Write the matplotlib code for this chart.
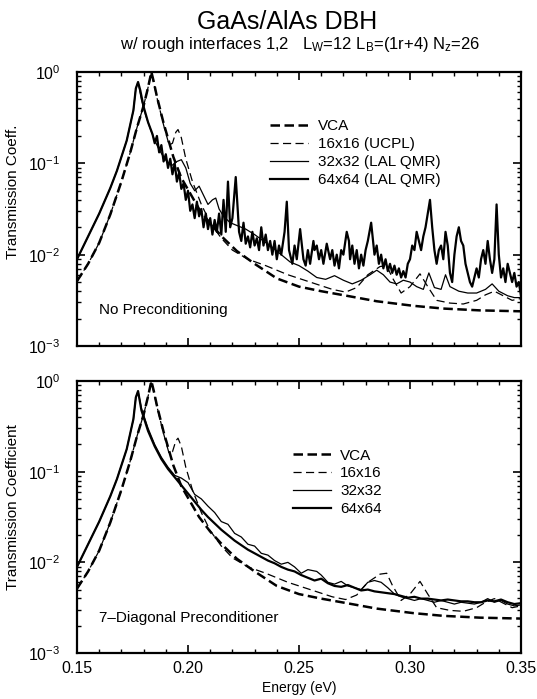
import numpy as np
import matplotlib
matplotlib.use("Agg")
import matplotlib.pyplot as plt
from matplotlib.ticker import MultipleLocator, LogLocator, NullFormatter

plt.rcParams['font.family'] = ['Liberation Sans', 'DejaVu Sans']
plt.rcParams['mathtext.fontset'] = 'custom'
plt.rcParams['mathtext.rm'] = 'Liberation Sans'
plt.rcParams['mathtext.it'] = 'Liberation Sans:italic'
plt.rcParams['mathtext.default'] = 'regular'

# ---- data (energy in eV, transmission as log10 values) ----
# shared left branch of the resonance
e_vca_left = [0.150, 0.155, 0.160, 0.165, 0.170, 0.174, 0.177, 0.180, 0.182, 0.1835]
t_vca_left = [-2.29, -2.10, -1.87, -1.56, -1.20, -0.88, -0.61, -0.37, -0.17, 0.0]

e_lal_left = [0.150, 0.155, 0.160, 0.165, 0.168, 0.1724, 0.1754, 0.1765, 0.1775]
t_lal_left = [-2.05, -1.80, -1.55, -1.27, -1.08, -0.75, -0.42, -0.18, -0.11]

# VCA
e_vca_right = [0.1845, 0.186, 0.189, 0.1934, 0.197, 0.201, 0.205, 0.210, 0.216, 0.222,
               0.230, 0.240, 0.250, 0.260, 0.2715, 0.285, 0.3015, 0.315, 0.3315, 0.350]
t_vca_right = [-0.10, -0.27, -0.56, -0.93, -1.16, -1.33, -1.50, -1.66, -1.82, -1.96,
               -2.10, -2.26, -2.35, -2.40, -2.45, -2.51, -2.56, -2.59, -2.61, -2.62]

# 16x16
e_16_right = [0.186, 0.189, 0.1915, 0.193, 0.1945, 0.1955, 0.197, 0.199, 0.202, 0.206,
              0.210, 0.215, 0.220, 0.227, 0.235, 0.245, 0.255, 0.265, 0.271, 0.276,
              0.281, 0.2865, 0.2895, 0.292, 0.296, 0.300, 0.3045, 0.308, 0.312, 0.318,
              0.324, 0.330, 0.334, 0.338, 0.342, 0.346, 0.350]
t_16_right = [-0.28, -0.58, -0.80, -0.78, -0.66, -0.63, -0.72, -0.95, -1.20, -1.45,
              -1.65, -1.82, -1.95, -2.05, -2.12, -2.22, -2.30, -2.38, -2.41, -2.36,
              -2.22, -2.13, -2.12, -2.25, -2.42, -2.35, -2.21, -2.35, -2.50, -2.53,
              -2.54, -2.50, -2.44, -2.40, -2.45, -2.50, -2.48]

# 64x64, no preconditioning (noisy)
e_64_top = [0.1785, 0.180, 0.182, 0.184, 0.185, 0.186, 0.187, 0.188, 0.189, 0.190,
            0.191, 0.192, 0.193, 0.194, 0.195, 0.196, 0.197, 0.198, 0.199, 0.200,
            0.201, 0.202, 0.203, 0.204, 0.205, 0.206, 0.207, 0.208, 0.209, 0.210,
            0.211, 0.212, 0.213, 0.214, 0.215, 0.216, 0.217, 0.218, 0.219, 0.220,
            0.2215, 0.223, 0.224, 0.225, 0.226, 0.227, 0.228, 0.229, 0.230, 0.231,
            0.232, 0.233, 0.234, 0.235, 0.236, 0.237, 0.238, 0.239, 0.240, 0.241,
            0.242, 0.2435, 0.2445, 0.2455, 0.247, 0.248, 0.249, 0.2505, 0.252, 0.253,
            0.254, 0.255, 0.2565, 0.257, 0.258, 0.259, 0.260, 0.261, 0.2625, 0.264,
            0.265, 0.266, 0.267, 0.268, 0.269, 0.270, 0.2715, 0.2725, 0.273, 0.274,
            0.275, 0.276, 0.277, 0.278, 0.279, 0.280, 0.281, 0.2825, 0.284, 0.285,
            0.286, 0.287, 0.288, 0.289, 0.290, 0.291, 0.292, 0.293, 0.294, 0.295,
            0.296, 0.297, 0.298, 0.299, 0.300, 0.301, 0.302, 0.303, 0.304, 0.305,
            0.306, 0.307, 0.308, 0.309, 0.310, 0.311, 0.312, 0.313, 0.314, 0.315,
            0.316, 0.317, 0.318, 0.319, 0.320, 0.321, 0.322, 0.323, 0.324, 0.325,
            0.326, 0.327, 0.328, 0.329, 0.330, 0.331, 0.332, 0.333, 0.334, 0.335,
            0.336, 0.337, 0.338, 0.339, 0.340, 0.341, 0.342, 0.343, 0.344, 0.345,
            0.346, 0.347, 0.348, 0.349, 0.350]
t_64_top = [-0.20, -0.38, -0.55, -0.68, -0.78, -0.70, -0.88, -0.80, -0.98, -0.90,
            -1.05, -0.95, -1.12, -1.00, -1.20, -1.10, -1.28, -1.22, -1.40, -1.30,
            -1.52, -1.45, -1.60, -1.42, -1.58, -1.50, -1.70, -1.55, -1.72, -1.60,
            -1.78, -1.62, -1.75, -1.55, -1.78, -1.40, -1.75, -1.20, -1.70, -1.60,
            -1.15, -1.75, -1.85, -1.65, -1.88, -1.80, -1.92, -1.75, -1.90, -1.82,
            -1.95, -1.70, -1.90, -1.78, -1.95, -1.85, -2.00, -1.85, -2.05, -1.90,
            -2.00, -1.75, -1.42, -1.95, -2.10, -1.90, -2.05, -1.72, -2.05, -2.12,
            -1.95, -2.10, -1.85, -1.95, -1.90, -2.05, -1.95, -2.10, -1.88, -2.05,
            -1.95, -2.12, -2.00, -2.15, -1.95, -2.00, -1.75, -1.85, -2.05, -1.90,
            -2.10, -1.95, -2.15, -2.00, -2.12, -1.95, -1.85, -1.65, -2.00, -1.90,
            -2.10, -2.00, -2.15, -2.05, -2.18, -2.10, -2.20, -2.12, -2.22, -2.15,
            -2.25, -2.18, -2.25, -2.10, -2.05, -1.90, -1.95, -1.75, -1.85, -1.95,
            -1.80, -1.70, -1.55, -1.40, -1.70, -1.95, -2.10, -1.95, -1.90, -2.05,
            -1.75, -1.90, -2.20, -2.30, -2.00, -1.80, -1.70, -1.85, -1.90, -2.10,
            -2.20, -2.30, -2.35, -2.25, -2.15, -2.25, -2.05, -1.95, -2.10, -1.85,
            -2.05, -2.20, -2.05, -1.45, -2.00, -2.25, -2.15, -2.30, -2.10, -2.20,
            -2.30, -2.20, -2.35, -2.30, -2.45]

# 32x32, no preconditioning
e_32_top = [0.179, 0.181, 0.183, 0.185, 0.187, 0.189, 0.191, 0.193, 0.195, 0.197,
            0.199, 0.201, 0.203, 0.205, 0.207, 0.209, 0.211, 0.2125, 0.214, 0.216,
            0.219, 0.222, 0.226, 0.230, 0.234, 0.238, 0.242, 0.246, 0.250, 0.254,
            0.258, 0.262, 0.266, 0.270, 0.274, 0.278, 0.282, 0.285, 0.288, 0.291,
            0.294, 0.297, 0.300, 0.303, 0.306, 0.3085, 0.311, 0.314, 0.316, 0.318,
            0.322, 0.326, 0.330, 0.334, 0.337, 0.340, 0.344, 0.347, 0.350]
t_32_top = [-0.30, -0.48, -0.62, -0.75, -0.85, -0.93, -1.00, -1.02, -0.98, -0.96,
            -1.05, -1.22, -1.30, -1.25, -1.35, -1.45, -1.40, -1.38, -1.50, -1.58,
            -1.65, -1.68, -1.72, -1.78, -1.85, -1.92, -2.00, -2.08, -2.12, -2.18,
            -2.25, -2.27, -2.23, -2.28, -2.32, -2.28, -2.22, -2.17, -2.22, -2.30,
            -2.32, -2.28, -2.30, -2.35, -2.38, -2.20, -2.36, -2.38, -2.22, -2.35,
            -2.40, -2.42, -2.42, -2.38, -2.32, -2.40, -2.45, -2.47, -2.47]

# 64x64, 7-diagonal preconditioner
e_64_bot = [0.179, 0.182, 0.185, 0.188, 0.191, 0.194, 0.197, 0.200, 0.203, 0.206,
            0.209, 0.212, 0.215, 0.218, 0.221, 0.224, 0.227, 0.230, 0.233, 0.236,
            0.239, 0.242, 0.245, 0.248, 0.251, 0.254, 0.257, 0.260, 0.263, 0.266,
            0.269, 0.272, 0.275, 0.278, 0.281, 0.284, 0.287, 0.290, 0.293, 0.296,
            0.299, 0.302, 0.305, 0.308, 0.311, 0.314, 0.317, 0.320, 0.323, 0.326,
            0.329, 0.332, 0.335, 0.338, 0.341, 0.344, 0.347, 0.350]
t_64_bot = [-0.32, -0.55, -0.72, -0.86, -0.97, -1.06, -1.15, -1.24, -1.33, -1.42,
            -1.50, -1.57, -1.64, -1.70, -1.76, -1.81, -1.86, -1.90, -1.94, -1.98,
            -2.01, -2.05, -2.08, -2.10, -2.14, -2.17, -2.20, -2.18, -2.23, -2.26,
            -2.27, -2.25, -2.28, -2.31, -2.30, -2.32, -2.33, -2.34, -2.35, -2.37,
            -2.39, -2.38, -2.40, -2.40, -2.41, -2.42, -2.41, -2.42, -2.43, -2.43,
            -2.44, -2.44, -2.42, -2.43, -2.41, -2.44, -2.46, -2.45]

# 32x32, 7-diagonal preconditioner
e_32_bot = [0.179, 0.182, 0.185, 0.188, 0.191, 0.194, 0.197, 0.200, 0.203, 0.206,
            0.209, 0.212, 0.215, 0.218, 0.221, 0.224, 0.227, 0.230, 0.233, 0.236,
            0.239, 0.242, 0.245, 0.248, 0.251, 0.254, 0.258, 0.260, 0.263, 0.266,
            0.269, 0.272, 0.275, 0.278, 0.281, 0.284, 0.287, 0.290, 0.293, 0.296,
            0.299, 0.302, 0.305, 0.308, 0.311, 0.314, 0.317, 0.320, 0.323, 0.326,
            0.329, 0.332, 0.335, 0.338, 0.341, 0.344, 0.347, 0.350]
t_32_bot = [-0.30, -0.52, -0.70, -0.84, -0.95, -1.04, -1.07, -1.12, -1.25, -1.30,
            -1.38, -1.45, -1.55, -1.58, -1.68, -1.72, -1.80, -1.82, -1.90, -1.92,
            -1.98, -2.02, -2.00, -2.05, -2.12, -2.08, -2.10, -2.14, -2.22, -2.24,
            -2.21, -2.26, -2.28, -2.30, -2.22, -2.20, -2.22, -2.28, -2.35, -2.38,
            -2.40, -2.42, -2.40, -2.42, -2.44, -2.42, -2.44, -2.46, -2.44, -2.45,
            -2.46, -2.44, -2.40, -2.44, -2.42, -2.46, -2.48, -2.47]

top_labels = ['VCA', '16x16 (UCPL)', '32x32 (LAL QMR)', '64x64 (LAL QMR)']
bot_labels = ['VCA', '16x16', '32x32', '64x64']


def series(e_left, t_left, e_right, t_right):
    e = np.array(e_left + e_right)
    t = 10.0 ** np.array(t_left + t_right)
    return e, t


vca = series(e_vca_left, t_vca_left, e_vca_right, t_vca_right)
s16 = series(e_vca_left, t_vca_left, e_16_right, t_16_right)
s32_top = series(e_lal_left, t_lal_left, e_32_top, t_32_top)
s64_top = series(e_lal_left, t_lal_left, e_64_top, t_64_top)
s32_bot = series(e_lal_left, t_lal_left, e_32_bot, t_32_bot)
s64_bot = series(e_lal_left, t_lal_left, e_64_bot, t_64_bot)

fig = plt.figure(figsize=(5.37, 6.99), dpi=100)
ax1 = fig.add_axes([0.1434, 0.505, 0.8268, 0.392])
ax2 = fig.add_axes([0.1434, 0.0658, 0.8268, 0.389])


def draw(ax, s32, s64, labels, note, leg_xy):
    ax.plot(*vca, color='k', lw=1.8, ls=(0, (3.8, 1.8)), label=labels[0])
    ax.plot(*s16, color='k', lw=0.9, ls=(0, (6.5, 3.5)), label=labels[1])
    ax.plot(*s32, color='k', lw=0.9, label=labels[2])
    ax.plot(*s64, color='k', lw=1.6, label=labels[3])
    ax.set_yscale('log')
    ax.set_xlim(0.15, 0.35)
    ax.set_ylim(1e-3, 1)
    ax.xaxis.set_major_locator(MultipleLocator(0.05))
    ax.xaxis.set_minor_locator(MultipleLocator(0.01))
    ax.yaxis.set_major_locator(LogLocator(base=10, numticks=10))
    ax.yaxis.set_minor_locator(LogLocator(base=10, subs=np.arange(2, 10), numticks=10))
    ax.yaxis.set_minor_formatter(NullFormatter())
    ax.tick_params(which='both', direction='in', top=True, right=True, labelsize=11.5)
    ax.tick_params(which='major', length=6, width=1.2)
    ax.tick_params(which='minor', length=3, width=1.0)
    ax.tick_params(axis='y', which='major', pad=12)
    ax.tick_params(axis='x', which='major', pad=6)
    for sp in ax.spines.values():
        sp.set_linewidth(1.6)
    ax.text(0.05, 0.13, note, transform=ax.transAxes, fontsize=11, va='center')
    ax.legend(loc='upper left', bbox_to_anchor=leg_xy, frameon=False, fontsize=11,
              handlelength=2.5, handletextpad=0.6, labelspacing=0.25,
              borderpad=0, borderaxespad=0)


draw(ax1, s32_top, s64_top, top_labels, 'No Preconditioning', (0.435, 0.827))
draw(ax2, s32_bot, s64_bot, bot_labels, '7\u2013Diagonal Preconditioner', (0.4865, 0.752))
ax1.set_xticklabels([])

fig.text(287 / 537, 1 - 22 / 699, 'GaAs/AlAs DBH', ha='center', va='center', fontsize=18)
fig.text(300 / 537, 1 - 45 / 699,
         r'w/ rough interfaces 1,2   L$_\mathrm{W}$=12 L$_\mathrm{B}$=(1r+4) N$_\mathrm{z}$=26',
         ha='center', va='center', fontsize=12)
fig.text(13 / 537, 1 - 192 / 699, 'Transmission Coeff.', rotation=90,
         ha='center', va='center', fontsize=11)
fig.text(13 / 537, 1 - 507 / 699, 'Transmission Coefficient', rotation=90,
         ha='center', va='center', fontsize=11)
fig.text(299 / 537, 1 - 688 / 699, 'Energy (eV)', ha='center', va='center', fontsize=10)

fig.savefig('out.png', dpi=100)
